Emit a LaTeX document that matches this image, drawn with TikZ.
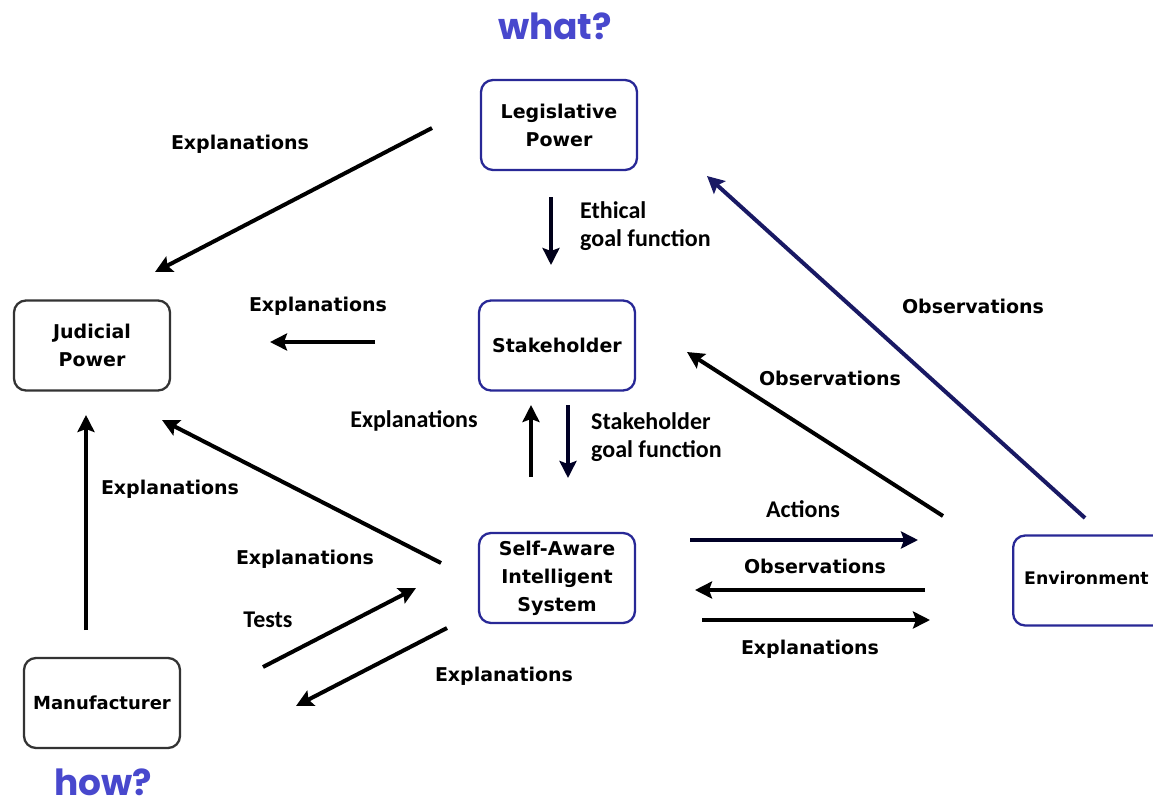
\documentclass[tikz,border=0pt]{standalone}
\usepackage{fontspec}
\setmainfont{DejaVu Sans}
\newfontfamily\calfont{Carlito}
\newfontfamily\popfont{Poppins}
\usetikzlibrary{arrows.meta}
\definecolor{qblue}{RGB}{72,72,205}
\definecolor{boxblue}{RGB}{40,40,150}
\definecolor{navyarrow}{RGB}{25,25,100}
\begin{document}
\begin{tikzpicture}[x=1pt,y=-1pt,
  box/.style={draw, rounded corners=12pt, line width=2.3pt, minimum width=156pt, minimum height=90pt, align=center, font=\bfseries\fontsize{19}{28}\selectfont, inner sep=0pt},
  bluebox/.style={box, draw=boxblue},
  blackbox/.style={box, draw=black!80},
  lbl/.style={font=\bfseries\fontsize{19}{22}\selectfont, inner sep=0pt},
  clbl/.style={font=\calfont\bfseries\fontsize{24}{28}\selectfont, inner sep=0pt, align=left},
  arr/.style={line width=4pt, -{Stealth[length=17pt,width=17pt,inset=3pt]}},
  q/.style={font=\popfont\bfseries\fontsize{36}{40}\selectfont, text=qblue, inner sep=0pt}]
\useasboundingbox[fill=white] (0,0) rectangle (1153,808);

% boxes
\node[bluebox] (leg) at (559,125) {Legislative\\Power};
\node[blackbox] (jud) at (92,345.5) {Judicial\\Power};
\node[bluebox] (stake) at (557,345.5) {Stakeholder};
\node[bluebox] (sais) at (557,578) {Self-Aware\\Intelligent\\System};
\node[bluebox, minimum width=160pt, anchor=west] (env) at (1012,580.5) {};
\node[lbl, anchor=west, font=\bfseries\fontsize{17.3}{20}\selectfont] (envt) at (1024,578) {Environment};
\node[blackbox, font=\bfseries\fontsize{18}{24}\selectfont] (man) at (102,703) {Manufacturer};

% questions
\node[q, anchor=base] (what) at (555,40) {what?};
\node[q, anchor=base] (how) at (103,795) {how?};

% labels
\node[lbl] (l1) at (240,144) {Explanations};
\node[clbl, anchor=west] (l2) at (580,226) {Ethical\\goal function};
\node[lbl] (l3) at (318,306) {Explanations};
\node[clbl] (l4) at (414,421) {Explanations};
\node[clbl, anchor=west] (l5) at (591,437) {Stakeholder\\goal function};
\node[lbl] (l6) at (170,489) {Explanations};
\node[lbl] (l7) at (305,559) {Explanations};
\node[clbl] (l8) at (268,620) {Tests};
\node[lbl] (l9) at (504,676) {Explanations};
\node[clbl] (l10) at (803,509) {Actions};
\node[lbl] (l11) at (815,566) {Observations};
\node[lbl] (l12) at (810,649) {Explanations};
\node[lbl] (l13) at (830,378) {Observations};
\node[lbl] (l14) at (973,306) {Observations};

% arrow end points
\coordinate (a1s) at (432,128); \coordinate (a1e) at (155,272);
\coordinate (a2s) at (551,197); \coordinate (a2e) at (551,265);
\coordinate (a3s) at (375,342); \coordinate (a3e) at (270,342);
\coordinate (a4s) at (531,477); \coordinate (a4e) at (531,405);
\coordinate (a5s) at (568,405); \coordinate (a5e) at (568,478);
\coordinate (a6s) at (86,630);  \coordinate (a6e) at (86,415);
\coordinate (a7s) at (441,563); \coordinate (a7e) at (162,420);
\coordinate (a8s) at (263,667); \coordinate (a8e) at (416,588);
\coordinate (a9s) at (447,628); \coordinate (a9e) at (296,706);
\coordinate (a10s) at (690,540); \coordinate (a10e) at (918,540);
\coordinate (a11s) at (925,590); \coordinate (a11e) at (695,590);
\coordinate (a12s) at (702,620); \coordinate (a12e) at (930,620);
\coordinate (a13s) at (943,516); \coordinate (a13e) at (687,352);
\coordinate (a14s) at (1085,518); \coordinate (a14e) at (707,176);

\draw[arr] (a1s) -- (a1e);
\draw[arr, line width=3.3pt, draw=black!90!blue] (a2s) -- (a2e);
\draw[arr] (a3s) -- (a3e);
\draw[arr] (a4s) -- (a4e);
\draw[arr, draw=black!85!blue] (a5s) -- (a5e);
\draw[arr] (a6s) -- (a6e);
\draw[arr] (a7s) -- (a7e);
\draw[arr] (a8s) -- (a8e);
\draw[arr] (a9s) -- (a9e);
\draw[arr, draw=black!85!blue] (a10s) -- (a10e);
\draw[arr] (a11s) -- (a11e);
\draw[arr] (a12s) -- (a12e);
\draw[arr] (a13s) -- (a13e);
\draw[arr, draw=navyarrow] (a14s) -- (a14e);
\end{tikzpicture}
\end{document}
